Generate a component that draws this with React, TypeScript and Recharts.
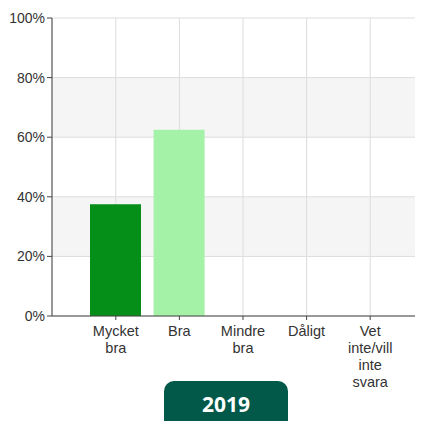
import React from 'react';
import { BarChart, Bar, XAxis, YAxis, CartesianGrid, Cell } from 'recharts';

const categories = ['Mycket bra', 'Bra', 'Mindre bra', 'Dåligt', 'Vet inte/vill inte svara'];
const categoryLines = [['Mycket', 'bra'], ['Bra'], ['Mindre', 'bra'], ['Dåligt'], ['Vet', 'inte/vill', 'inte', 'svara']];
const values = [37.5, 62.5, 0, 0, 0];
const barColors = ['#058e18', '#a4f1a8', '#058e18', '#058e18', '#058e18'];
const yTicks = [0, 20, 40, 60, 80, 100];
const yearLabel = '2019';

const data = categories.map((c, i) => ({ name: c, value: values[i] }));

const FONT = '"Liberation Sans", Arial, sans-serif';

const XTick = (props: any) => {
  const { x, y, payload } = props;
  const idx = categories.indexOf(payload.value);
  const lines = idx >= 0 ? categoryLines[idx] : [payload.value];
  return (
    <g transform={`translate(${x},${y})`}>
      <text textAnchor="middle" fill="#333" fontSize={14.5} fontFamily={FONT}>
        {lines.map((l: string, i: number) => (
          <tspan key={i} x={0} y={14 + i * 17}>
            {l}
          </tspan>
        ))}
      </text>
    </g>
  );
};

export default function App() {
  return (
    <div style={{ position: 'relative', width: 415, height: 413, overflow: 'hidden' }}>
      <BarChart
        width={415}
        height={413}
        data={data}
        margin={{ top: 10, right: 0, bottom: 0, left: 0 }}
      >
        <CartesianGrid
          stroke="#dcdcdc"
          horizontalFill={['#ffffff', '#f5f5f5']}
          fillOpacity={1}
        />
        <XAxis
          dataKey="name"
          height={105}
          padding={{ left: 32, right: 21 }}
          tickSize={4}
          tickLine={{ stroke: '#444' }}
          axisLine={{ stroke: '#444' }}
          tick={<XTick />}
          interval={0}
        />
        <YAxis
          width={44}
          domain={[0, 100]}
          ticks={yTicks}
          tickSize={5}
          tickLine={{ stroke: '#444' }}
          axisLine={{ stroke: '#444' }}
          tickFormatter={(v: number) => `${v}%`}
          tick={{ fill: '#333', fontSize: 14, fontFamily: FONT }}
          interval={0}
        />
        <Bar dataKey="value" barSize={51} isAnimationActive={false}>
          {data.map((d, i) => (
            <Cell key={d.name} fill={barColors[i]} />
          ))}
        </Bar>
      </BarChart>
      <div
        style={{
          position: 'absolute',
          left: 156,
          top: 373,
          width: 124,
          height: 60,
          background: '#02594a',
          borderRadius: 10,
          color: '#fff',
          fontFamily: '"Open Sans", sans-serif',
          fontWeight: 700,
          fontSize: 21,
          textAlign: 'center',
          lineHeight: '47px',
        }}
      >
        {yearLabel}
      </div>
    </div>
  );
}
